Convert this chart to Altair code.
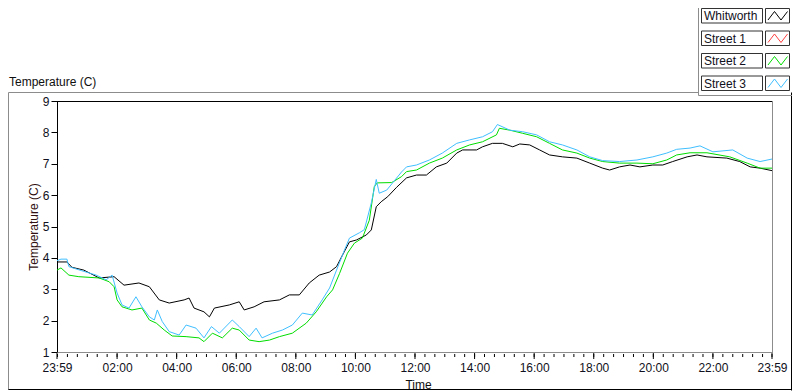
import altair as alt
import pandas as pd

FONT = "Liberation Sans"

series_names = ["Whitworth", "Street 1", "Street 2", "Street 3"]
series_colors = ["#000000", "#ff4040", "#00dd00", "#40bfff"]

# elapsed minutes since 23:59 of the previous day
whitworth_min = [0, 20, 30, 54, 85, 115, 135, 165, 186, 206,
                 226, 256, 266, 276, 296, 307, 317, 347, 367, 377,
                 397, 417, 448, 468, 488, 508, 528, 549, 563, 575,
                 589, 603, 623, 633, 643, 653, 666, 684, 704, 724,
                 744, 764, 785, 805, 817, 845, 857, 877, 897, 918,
                 932, 952, 972, 992, 1018, 1047, 1073, 1099, 1113, 1133,
                 1154, 1174, 1200, 1220, 1240, 1269, 1289, 1309, 1349, 1375,
                 1396, 1416, 1440]
whitworth_temp = [3.87, 3.87, 3.70, 3.61, 3.36, 3.40, 3.13, 3.20, 3.08, 2.66,
                  2.56, 2.66, 2.72, 2.40, 2.28, 2.12, 2.40, 2.50, 2.60, 2.34,
                  2.44, 2.60, 2.66, 2.82, 2.82, 3.20, 3.45, 3.55, 3.72, 4.09,
                  4.51, 4.57, 4.73, 4.89, 5.63, 5.79, 5.95, 6.25, 6.55, 6.64,
                  6.64, 6.90, 7.02, 7.34, 7.44, 7.44, 7.54, 7.65, 7.65, 7.54,
                  7.63, 7.60, 7.44, 7.28, 7.22, 7.18, 7.02, 6.86, 6.80, 6.90,
                  6.96, 6.90, 6.96, 6.96, 7.07, 7.22, 7.28, 7.22, 7.18, 7.07,
                  6.90, 6.86, 6.78]

street2_min = [0, 8, 24, 44, 85, 105, 115, 121, 131, 151,
               171, 186, 200, 216, 232, 260, 286, 296, 313, 333,
               353, 367, 387, 407, 428, 448, 474, 502, 522, 543,
               555, 569, 585, 599, 615, 629, 639, 645, 674, 694,
               704, 724, 750, 776, 805, 831, 857, 885, 891, 912,
               938, 966, 992, 1018, 1047, 1073, 1099, 1133, 1168, 1200,
               1228, 1248, 1275, 1309, 1355, 1390, 1416, 1440]
street2_temp = [3.61, 3.68, 3.45, 3.40, 3.36, 3.24, 3.08, 2.66, 2.44, 2.34,
                2.40, 2.02, 1.92, 1.70, 1.51, 1.49, 1.45, 1.33, 1.60, 1.45,
                1.76, 1.70, 1.38, 1.33, 1.38, 1.49, 1.60, 1.92, 2.28, 2.76,
                2.98, 3.50, 4.15, 4.47, 4.63, 5.20, 6.27, 6.39, 6.40, 6.59,
                6.75, 6.80, 7.02, 7.18, 7.44, 7.60, 7.70, 7.92, 8.13, 8.07,
                7.97, 7.86, 7.65, 7.44, 7.34, 7.18, 7.07, 7.02, 7.02, 7.00,
                7.12, 7.28, 7.35, 7.35, 7.22, 7.02, 6.86, 6.86]

street3_min = [0, 8, 20, 24, 50, 79, 99, 111, 121, 131,
               145, 159, 171, 186, 196, 202, 212, 226, 246, 260,
               280, 296, 311, 327, 353, 367, 387, 401, 413, 434,
               454, 474, 494, 514, 534, 549, 563, 579, 589, 609,
               619, 633, 643, 649, 664, 676, 694, 704, 724, 750,
               776, 805, 831, 857, 877, 887, 912, 938, 966, 992,
               1018, 1047, 1073, 1099, 1133, 1168, 1200, 1228, 1248, 1275,
               1295, 1321, 1361, 1390, 1416, 1440]
street3_temp = [3.91, 3.96, 3.96, 3.72, 3.59, 3.45, 3.30, 3.45, 2.88, 2.50,
                2.40, 2.76, 2.44, 2.12, 2.02, 2.34, 1.97, 1.65, 1.54, 1.86,
                1.76, 1.45, 1.81, 1.60, 2.02, 1.81, 1.49, 1.76, 1.45, 1.60,
                1.70, 1.86, 2.24, 2.18, 2.66, 3.04, 3.61, 4.25, 4.63, 4.80,
                4.90, 5.75, 6.50, 6.06, 6.16, 6.39, 6.74, 6.90, 6.96, 7.12,
                7.34, 7.65, 7.76, 7.86, 8.02, 8.25, 8.07, 8.02, 7.92, 7.70,
                7.60, 7.44, 7.22, 7.10, 7.07, 7.12, 7.22, 7.34, 7.46, 7.50,
                7.57, 7.38, 7.44, 7.18, 7.07, 7.15]

y_ticks = [1, 2, 3, 4, 5, 6, 7, 8, 9]
major_x_ticks = [0, 121, 241, 361, 481, 601, 721, 841, 961, 1081, 1201, 1321, 1440]
minor_x_ticks = [1 + 20 * k for k in range(72)] + [1440]

rows = []
for name, mins, temps in [("Whitworth", whitworth_min, whitworth_temp),
                          ("Street 2", street2_min, street2_temp),
                          ("Street 3", street3_min, street3_temp)]:
    assert len(mins) == len(temps), name
    for m, t in zip(mins, temps):
        rows.append({"minute": m, "temp": t, "series": name})
df = pd.DataFrame(rows)

W, H = 715, 251
x_scale = alt.Scale(domain=[0, 1440], nice=False, zero=False)
y_scale = alt.Scale(domain=[1, 9], nice=False, zero=False)

x_axis = alt.Axis(values=major_x_ticks,
                  labelExpr="timeFormat(datetime(2000, 0, 1, 23, 59 + datum.value), '%H:%M')",
                  ticks=False, tickSize=0, domain=False, grid=False,
                  labelPadding=10, labelFlush=False, labelOverlap=False,
                  labelColor="#101020", labelFontSize=12, labelFont=FONT,
                  title="Time", titleX=361, titleY=32, titleBaseline="middle",
                  titleAlign="center", titleFontWeight="normal", titleFontSize=12,
                  titleFont=FONT, titleColor="#101010")


def xenc():
    return alt.X("minute:Q", scale=x_scale, axis=x_axis)


lines = alt.Chart(df).mark_line(strokeWidth=1).encode(
    x=xenc(),
    y=alt.Y("temp:Q", scale=y_scale,
            axis=alt.Axis(values=y_ticks, tickSize=6, tickColor="black", tickWidth=1,
                          domain=False, grid=False, labelPadding=2,
                          labelColor="#101020", labelFontSize=12, labelFont=FONT,
                          title="Temperature (C)", titleX=-24, titleY=125.5, titleAngle=-90,
                          titleBaseline="middle", titleAlign="center",
                          titleFontWeight="normal", titleFontSize=12, titleFont=FONT,
                          titleColor="#301010")),
    color=alt.Color("series:N", scale=alt.Scale(domain=series_names, range=series_colors),
                    legend=None),
)

major_df = pd.DataFrame({"minute": major_x_ticks})
minor_df = pd.DataFrame({"minute": minor_x_ticks})
major_rules = alt.Chart(major_df).mark_rule(color="black", strokeWidth=1).encode(
    x=xenc(), y=alt.value(252), y2=alt.value(258))
minor_rules = alt.Chart(minor_df).mark_rule(color="black", strokeWidth=1).encode(
    x=xenc(), y=alt.value(253), y2=alt.value(256))


def one():
    return alt.Chart(pd.DataFrame({"k": [0]}))


def seg(x1, y1, x2, y2, color, width=1):
    return one().mark_rule(color=color, strokeWidth=width).encode(
        x=alt.value(x1), y=alt.value(y1), x2=alt.value(x2), y2=alt.value(y2))


decor = [
    # plot area frame
    seg(0, 0.5, W + 0.5, 0.5, "black"),
    seg(0.5, 0, 0.5, H + 1, "black"),
    seg(W + 0.5, 0, W + 0.5, H + 1, "#8c8c8c"),
    seg(0.5, H + 0.5, W + 0.5, H + 0.5, "#8c8c8c"),
    # outer panel frame
    seg(-48.5, -8.5, 641.5, -8.5, "#8c8c8c"),
    seg(-48.5, -8.5, -48.5, 289, "#8c8c8c"),
    seg(734.5, -8.5, 734.5, 289.5, "black"),
    seg(-48.5, 288.5, 734.5, 288.5, "black"),
    # legend frame
    seg(641.5, -93, 641.5, -5.5, "#8c8c8c"),
    seg(641.5, -5.5, 735, -5.5, "#8c8c8c"),
]

title = one().mark_text(align="left", baseline="middle", fontSize=12, font=FONT,
                        color="#101010").encode(
    x=alt.value(-48), y=alt.value(-19), text=alt.value("Temperature (C)"))

legend_layers = []
for i, (name, color) in enumerate(zip(series_names, series_colors)):
    top = -92.5 + 22.5 * i
    bot = top + 14.5
    d = alt.Chart(pd.DataFrame({"name": [name]}))
    legend_layers.append(d.mark_rect(fill="white", stroke="#333333", strokeWidth=1).encode(
        x=alt.value(644.5), x2=alt.value(705.5), y=alt.value(top), y2=alt.value(bot)))
    legend_layers.append(d.mark_text(align="left", baseline="middle", fontSize=12, font=FONT,
                                     color="#101020").encode(
        x=alt.value(647), y=alt.value((top + bot) / 2 + 0.5), text="name:N"))
    legend_layers.append(d.mark_rect(fill="white", stroke="#333333", strokeWidth=1).encode(
        x=alt.value(708.5), x2=alt.value(732.5), y=alt.value(top), y2=alt.value(bot)))
    xs = [711, 717.5, 724, 730.5]
    ys = [bot - 3, top + 3, bot - 3, top + 3]
    for j in range(3):
        legend_layers.append(seg(xs[j], ys[j], xs[j + 1], ys[j + 1], color))

chart = alt.layer(
    *decor, major_rules, minor_rules, lines, title, *legend_layers
).properties(
    width=W, height=H,
    autosize=alt.AutoSizeParams(type="none"),
    padding={"left": 49, "top": 93, "right": 20, "bottom": 40},
    background="white",
).configure_view(stroke=None)

chart.save("out.html", embed_options={"renderer": "svg", "actions": False})
